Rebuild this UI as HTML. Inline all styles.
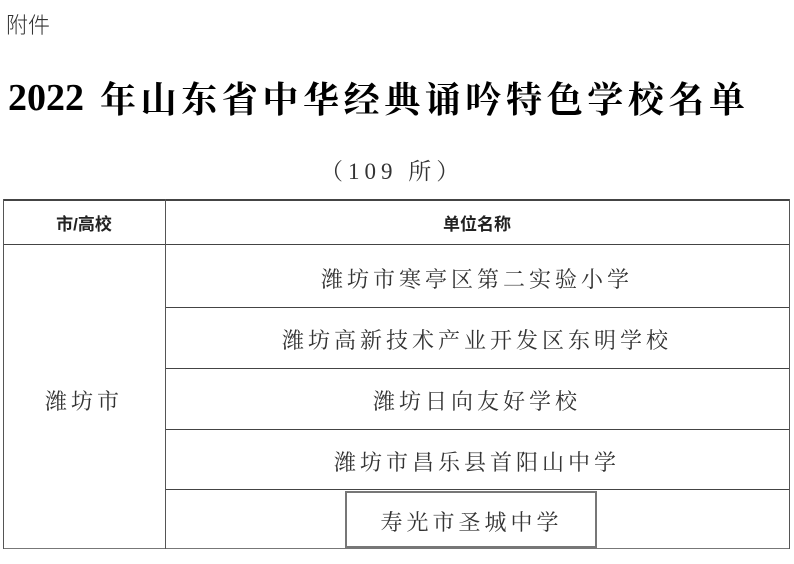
<!DOCTYPE html>
<html><head><meta charset="utf-8"><style>
body{margin:0;width:794px;height:564px;background:#fff;position:relative;overflow:hidden;font-family:"Liberation Serif","Noto Serif CJK SC",serif;color:#222}
.a{position:absolute;white-space:nowrap}
.c{position:absolute;white-space:nowrap;text-align:center;font-family:"Liberation Serif","Noto Serif CJK SC",serif;font-size:22px;letter-spacing:4px;color:#333}
.h{position:absolute;background:#444}
.v{position:absolute;background:#555}
</style></head><body>
<div class="a" style="left:6px;top:8px;font-size:22px;font-family:'Liberation Sans','Noto Sans CJK SC',sans-serif;font-weight:300;color:#333">附件</div>
<div class="a" style="left:8px;top:76px;font-size:38px;font-weight:bold;color:#000">2022</div>
<div class="a" style="left:100px;top:72px;font-size:36px;font-weight:bold;color:#000;letter-spacing:4.6px">年山东省中华经典诵吟特色学校名单</div>
<div class="a" style="left:320px;top:153px;font-size:23px;letter-spacing:5px;color:#333">（109 所）</div>
<div class="h" style="left:3px;top:199px;width:787px;height:2px"></div>
<div class="h" style="left:3px;top:244px;width:787px;height:1px"></div>
<div class="h" style="left:165px;top:307px;width:625px;height:1px"></div>
<div class="h" style="left:165px;top:368px;width:625px;height:1px"></div>
<div class="h" style="left:165px;top:429px;width:625px;height:1px"></div>
<div class="h" style="left:165px;top:489px;width:625px;height:1px"></div>
<div class="h" style="left:3px;top:548px;width:787px;height:1px;background:#777"></div>
<div class="v" style="left:3px;top:199px;width:1px;height:350px"></div>
<div class="v" style="left:165px;top:199px;width:1px;height:350px"></div>
<div class="v" style="left:789px;top:199px;width:1px;height:350px"></div>
<div style="position:absolute;left:345px;top:491px;width:248px;height:53px;border:2.5px solid #777"></div>
<div class="a" style="left:3px;top:210px;width:162px;text-align:center;font-family:'Liberation Sans','Noto Sans CJK SC',sans-serif;font-weight:bold;font-size:17px;color:#222">市/高校</div>
<div class="a" style="left:165px;top:210px;width:624px;text-align:center;font-family:'Liberation Sans','Noto Sans CJK SC',sans-serif;font-weight:bold;font-size:17px;color:#222">单位名称</div>
<div class="c" style="left:3px;top:385px;width:162px">潍坊市</div>
<div class="c" style="left:165px;top:263px;width:624px">潍坊市寒亭区第二实验小学</div>
<div class="c" style="left:165px;top:324px;width:624px">潍坊高新技术产业开发区东明学校</div>
<div class="c" style="left:165px;top:385px;width:624px">潍坊日向友好学校</div>
<div class="c" style="left:165px;top:446px;width:624px">潍坊市昌乐县首阳山中学</div>
<div class="c" style="left:345px;top:506px;width:253px">寿光市圣城中学</div>
</body></html>
